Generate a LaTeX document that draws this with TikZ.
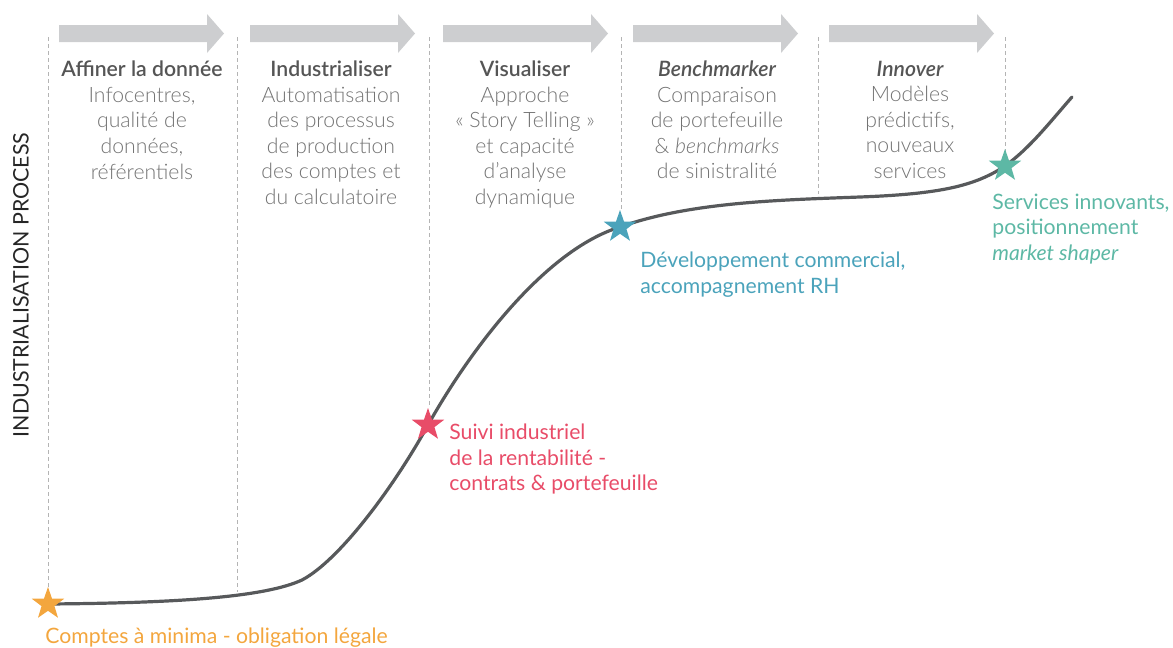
\documentclass[tikz,border=0pt]{standalone}
\usepackage{fontspec}
\setmainfont{Lato}
\IfFontExistsTF{Lato Light}{\newfontfamily\lightfont{Lato Light}}{\newfontfamily\lightfont{Lato}}
\usepackage{color}
\definecolor{myarrowgray}{RGB}{205,206,208}
\definecolor{mydashgray}{RGB}{180,180,180}
\definecolor{mytitlegray}{RGB}{85,85,85}
\definecolor{mytextgray}{RGB}{115,115,115}
\definecolor{mycurvegray}{RGB}{87,89,91}
\definecolor{myorange}{RGB}{243,166,62}
\definecolor{myred}{RGB}{232,76,104}
\definecolor{myblue}{RGB}{75,163,187}
\definecolor{myteal}{RGB}{93,184,165}
\usepackage{tikz}
\usetikzlibrary{shapes.geometric,positioning}
\tikzstyle{stage}=[anchor=north,align=center,inner sep=0pt,text=mytextgray,font=\lightfont\fontsize{10.6}{12.8}\selectfont]
\tikzstyle{milestone}=[star,star points=5,star point ratio=2.5,minimum size=17pt,inner sep=0pt]
\tikzstyle{steplabel}=[anchor=north west,align=left,inner sep=0pt,font=\fontsize{10.6}{12.8}\selectfont]
\newcommand{\stagetitle}[1]{{\bfseries\color{mytitlegray}#1}}

\begin{document}
\begin{tikzpicture}[x=0.5pt,y=-0.5pt]
\useasboundingbox (0,0) rectangle (1173,648);
% grey arrows on top
\foreach \x in {59,250,443,633,829}
  \fill[myarrowgray] (\x,25) -- ++(148,0) -- ++(0,-11) -- ++(17,19.5) -- ++(-17,19.5) -- ++(0,-11) -- ++(-148,0) -- cycle;
% dashed separators
\foreach \x/\y in {48/596,237/592,429/406,621/212,818/194,1005/156}
  \draw[mydashgray,dashed,line width=0.5pt,dash pattern=on 2pt off 1.5pt] (\x,37) -- (\x,\y);
% stages
\draw (142,60.5) node [stage] (s1) {\stagetitle{Affiner la donnée}\\Infocentres,\\qualité de\\données,\\référentiels};
\draw (331,60.5) node [stage] (s2) {\stagetitle{Industrialiser}\\Automatisation\\des processus\\de production\\des comptes et\\du calculatoire};
\draw (525,60.5) node [stage] (s3) {\stagetitle{Visualiser}\\Approche\\« Story Telling »\\et capacité\\d’analyse\\dynamique};
\draw (717,60.5) node [stage] (s4) {\stagetitle{\itshape Benchmarker}\\Comparaison\\de portefeuille\\\& \textit{benchmarks}\\de sinistralité};
\draw (910,60.5) node [stage] (s5) {\stagetitle{\itshape Innover}\\Modèles\\prédictifs,\\nouveaux\\services};
% axis label
\draw (21,285) node [rotate=90,text=black!85,font=\fontsize{10.7}{12}\selectfont] (axis) {INDUSTRIALISATION PROCESS};
% curve
\coordinate (p1) at (48,604);
\coordinate (p2) at (428,425);
\coordinate (p3) at (620,227);
\coordinate (p4) at (1005,166);
\coordinate (p5) at (1072,97);
\draw[mycurvegray,line width=1.6pt,line cap=round] (p1) .. controls (180,603) and (265,597) .. (302,580)
  .. controls (340,560) and (395,485) .. (p2)
  .. controls (470,350) and (545,250) .. (p3)
  .. controls (690,202) and (780,200) .. (860,197)
  .. controls (940,194) and (975,186) .. (p4)
  .. controls (1030,148) and (1050,122) .. (p5);
% milestones
\draw (p1) node [milestone,fill=myorange] (m1) {};
\draw (p2) node [milestone,fill=myred] (m2) {};
\draw (p3) node [milestone,fill=myblue] (m3) {};
\draw (p4) node [milestone,fill=myteal] (m4) {};
\draw (45,627) node [steplabel,text=myorange] (l1) {Comptes à minima - obligation légale};
\draw (449,423.5) node [steplabel,text=myred] (l2) {Suivi industriel\\de la rentabilité -\\contrats \& portefeuille};
\draw (640,251.5) node [steplabel,text=myblue] (l3) {Développement commercial,\\accompagnement RH};
\draw (992,193.5) node [steplabel,text=myteal] (l4) {Services innovants,\\positionnement\\\textit{market shaper}};
\end{tikzpicture}
\end{document}
